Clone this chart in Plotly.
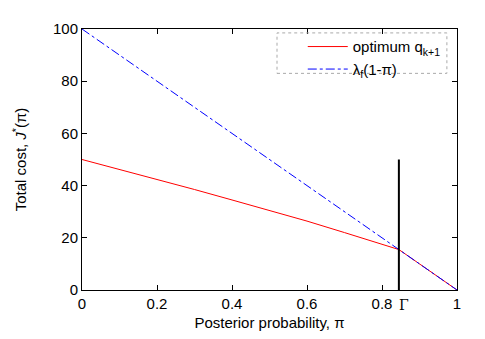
import plotly.graph_objects as go

# Data
pi_opt = [0, 0.1, 0.2, 0.3, 0.4, 0.5, 0.6, 0.7, 0.8, 0.845, 0.9, 1.0]
cost_opt = [50, 46.2, 42.4, 38.5, 34.5, 30.4, 26.4, 22.0, 17.4, 15.5, 10.0, 0.0]
pi_lin = [0, 1]
cost_lin = [100, 0]
gamma = 0.845
gamma_line_y = [0, 50]
x_ticks = [0, 0.2, 0.4, 0.6, 0.8, 1]
x_tick_labels = ["0", "0.2", "0.4", "0.6", "0.8", "1"]
y_ticks = [0, 20, 40, 60, 80, 100]

font = "Liberation Sans, Arial, Helvetica, sans-serif"
fs = 15

fig = go.Figure()
fig.add_trace(go.Scatter(x=pi_opt, y=cost_opt, mode="lines",
                         line=dict(color="#ff0000", width=1),
                         name="optimum q<sub>k+1</sub>"))
fig.add_trace(go.Scatter(x=pi_lin, y=cost_lin, mode="lines",
                         line=dict(color="#0000ff", width=1, dash="dashdot"),
                         name="λ<sub>f</sub>(1-π)"))
fig.add_trace(go.Scatter(x=[gamma, gamma], y=gamma_line_y, mode="lines",
                         line=dict(color="black", width=2), showlegend=False,
                         hoverinfo="skip"))

fig.add_annotation(x=gamma, y=0, xref="x", yref="y", text="Γ", showarrow=False,
                   yshift=-15, xshift=5,
                   font=dict(family="DejaVu Serif, Liberation Serif, serif", size=14, color="black"))

axis_common = dict(showgrid=False, zeroline=False, showline=True, linecolor="black",
                   linewidth=1, mirror="ticks", ticks="inside", ticklen=5,
                   tickcolor="black", tickfont=dict(family=font, size=fs, color="black"))

fig.update_xaxes(range=[0, 1], tickvals=x_ticks, ticktext=x_tick_labels,
                 title=dict(text="Posterior probability, π", font=dict(family=font, size=fs, color="black"),
                            standoff=6),
                 **axis_common)
fig.update_yaxes(range=[0, 100], tickvals=y_ticks,
                 title=dict(text="Total cost, <i>J</i><sup>*</sup>(π)", font=dict(family=font, size=fs, color="black"),
                            standoff=22),
                 **axis_common)

fig.add_shape(type="rect", xref="paper", yref="paper", x0=0.52, x1=0.973, y0=0.83, y1=0.985,
              line=dict(color="#aaaaaa", width=1, dash="dot"), fillcolor="rgba(0,0,0,0)")

fig.update_layout(
    width=485, height=339,
    margin=dict(l=74, r=36, t=12, b=57),
    plot_bgcolor="white", paper_bgcolor="white",
    font=dict(family=font, size=fs, color="black"),
    legend=dict(x=0.97, y=0.995, xanchor="right", yanchor="top",
                bgcolor="rgba(0,0,0,0)", borderwidth=0,
                font=dict(family=font, size=fs, color="black"),
                tracegroupgap=0, itemwidth=40),
    showlegend=True,
)

fig.write_html("out.html")
